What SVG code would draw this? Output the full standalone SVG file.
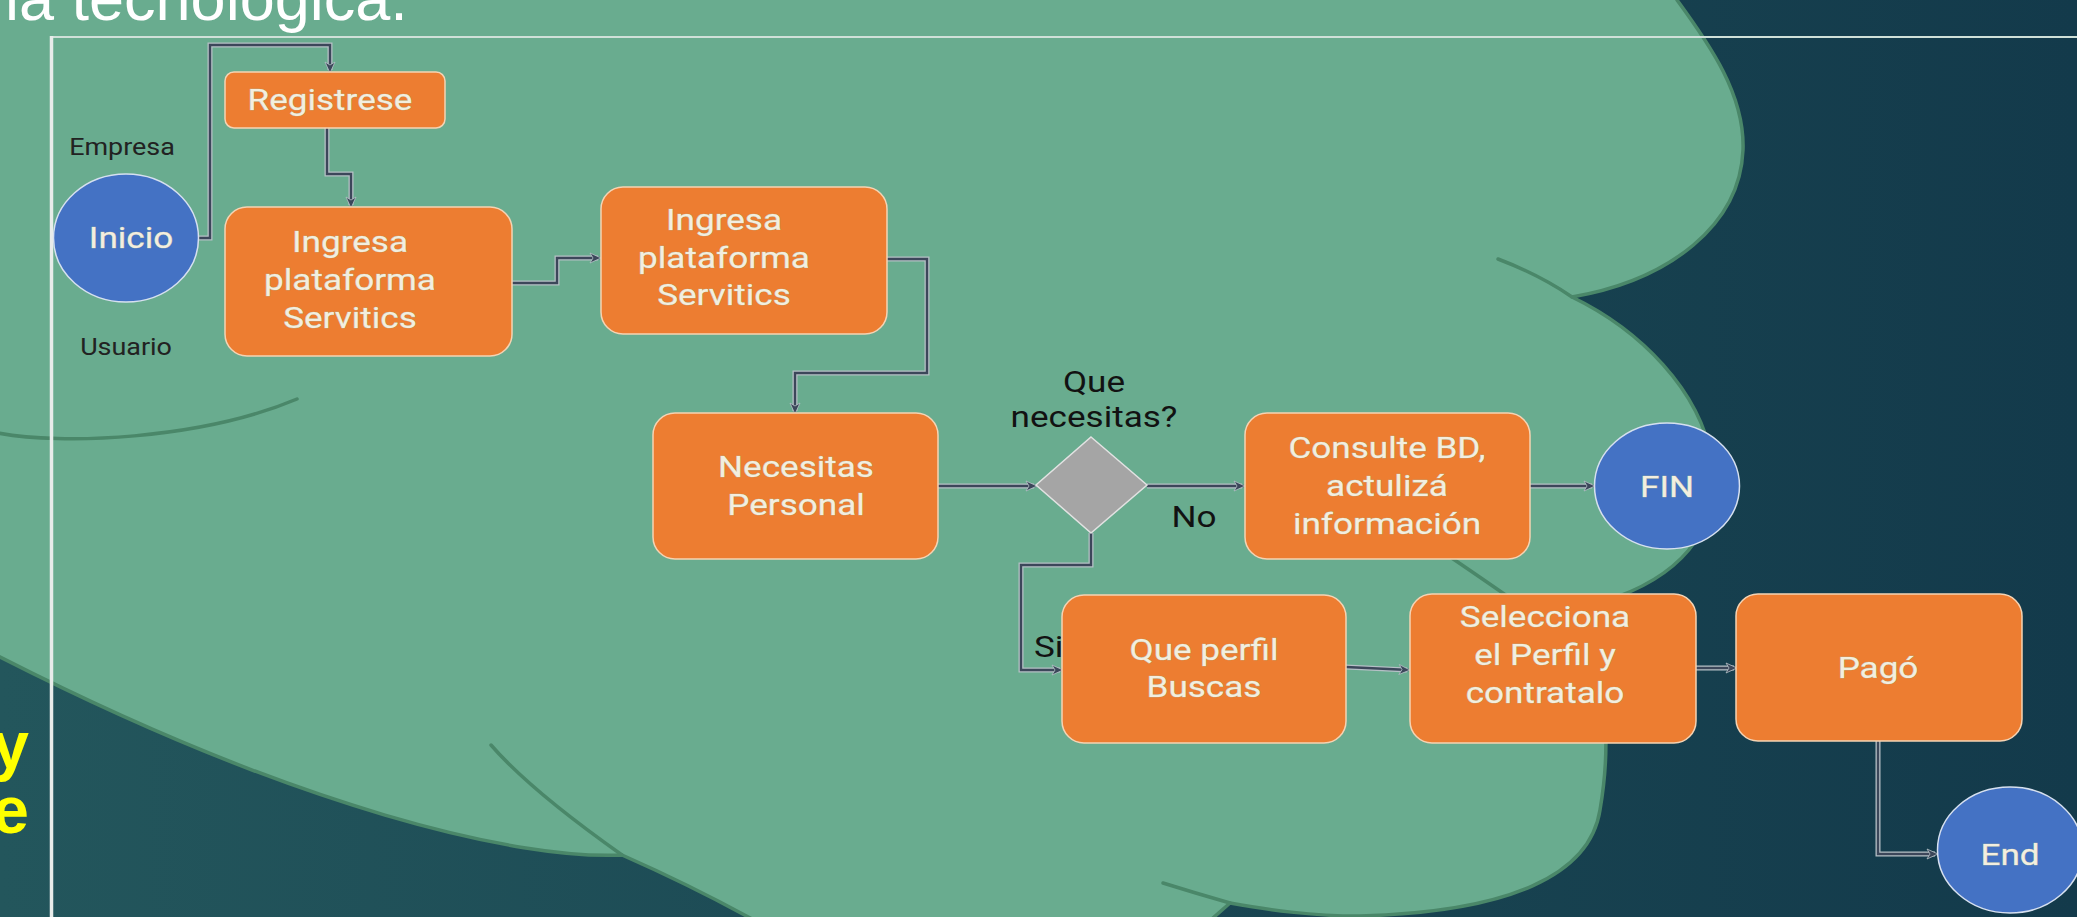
<svg xmlns="http://www.w3.org/2000/svg" width="2077" height="917" viewBox="0 0 2077 917">
<defs>
<linearGradient id="bg" x1="0" y1="0" x2="1" y2="0">
<stop offset="0" stop-color="#23565c"/>
<stop offset="1" stop-color="#133a4b"/>
</linearGradient>
<marker id="ar" markerWidth="14" markerHeight="14" refX="11" refY="6" orient="auto" markerUnits="userSpaceOnUse">
<path d="M1,1 L12,6 L1,11 L4,6 Z" fill="#3c475a" stroke="#b5c0c6" stroke-width="0.8"/>
</marker>
<style>
.box{fill:#ed7d31;stroke:#f5d3b3;stroke-width:1.5}
.circ{fill:#4472c4;stroke:#d6e0f0;stroke-width:1.5}
.dia{fill:#a5a5a5;stroke:#e2e2e2;stroke-width:1.5}
.nt{font-family:Roboto,"Liberation Sans",sans-serif;font-size:30px;fill:#f3eedf;text-anchor:middle;stroke:#a9b89f;stroke-width:0.6;paint-order:stroke}
.lb{font-family:Roboto,"Liberation Sans",sans-serif;font-size:30px;fill:#121212}
.sm{font-family:Roboto,"Liberation Sans",sans-serif;font-size:23px;fill:#222;text-anchor:middle}
.halo{fill:none;stroke:#b5c0c6;stroke-width:5}
.core{fill:none;stroke:#3c475a;stroke-width:2.4}
.edge{fill:none;stroke:#4a8769;stroke-width:3.5;stroke-linecap:round}
</style>
</defs>
<rect width="2077" height="917" fill="url(#bg)"/>
<g id="cloud">
<path fill="#69ac8f" d="M0,0 H1677 C1710,45 1745,95 1743,150 C1740,225 1670,280 1572,297 C1640,330 1700,390 1712,460 C1722,520 1690,570 1617,597 L1585,640 C1605,680 1612,740 1600,810 C1590,875 1510,912 1360,916 C1310,916 1270,910 1230,903 L1205,925 H755 L749,917 Q690,885 622,855 C520,860 300,810 0,657 Z"/>
<path class="edge" d="M1677,0 C1710,45 1745,95 1743,150 C1740,225 1670,280 1572,297"/>
<path class="edge" d="M1498,259 Q1540,275 1572,297 C1640,330 1700,390 1712,460 C1722,520 1690,570 1617,597"/>
<path class="edge" d="M1425,540 Q1470,570 1530,612"/>
<path class="edge" d="M1585,640 C1605,680 1612,740 1600,810 C1590,875 1510,912 1360,916 C1310,916 1270,910 1230,903 L1205,925"/>
<path class="edge" d="M1163,883 Q1195,893 1230,903"/>
<path class="edge" d="M752,919 Q690,885 622,855 C520,860 300,810 -2,656"/>
<path class="edge" d="M491,745 Q530,790 622,855"/>
<path class="edge" d="M-2,433 C60,445 200,440 297,399"/>
</g>
<g id="title">
<text x="5" y="20" font-family="Liberation Sans, Arial, sans-serif" font-size="63" fill="#ffffff">la tecnológica.</text>
<text x="29" y="768" font-family="Liberation Sans, Arial, sans-serif" font-size="66" font-weight="bold" fill="#ffff00" text-anchor="end">y</text>
<text x="29" y="833" font-family="Liberation Sans, Arial, sans-serif" font-size="66" font-weight="bold" fill="#ffff00" text-anchor="end">e</text>
</g>
<g id="frame">
<line x1="50" y1="37" x2="2077" y2="37" stroke="#cfe0d8" stroke-width="2"/>
<line x1="51.5" y1="36" x2="51.5" y2="917" stroke="#e8ecea" stroke-width="3.5"/>
</g>
<g id="connectors">
<g>
<path class="halo" d="M199,238 H210 V45 H330 V70"/>
<path class="halo" d="M327,128 V174 H351 V205"/>
<path class="halo" d="M512,283 H557 V258 H598"/>
<path class="halo" d="M887,259 H927 V373 H795 V411"/>
<path class="halo" d="M938,486 H1034"/>
<path class="halo" d="M1147,486 H1242"/>
<path class="halo" d="M1091,533 V565 H1021 V670 H1060"/>
<path class="halo" d="M1346,667 L1407,670"/>
<path class="halo" d="M1530,486 H1592"/>
<path class="halo" d="M1696,668 H1734"/>
<path class="halo" d="M1878,741 V854 H1935"/>
</g>
<path class="core" marker-end="url(#ar)" d="M199,238 H210 V45 H330 V72"/>
<path class="core" marker-end="url(#ar)" d="M327,128 V174 H351 V207"/>
<path class="core" marker-end="url(#ar)" d="M512,283 H557 V258 H600"/>
<path class="core" marker-end="url(#ar)" d="M887,259 H927 V373 H795 V413"/>
<path class="core" marker-end="url(#ar)" d="M938,486 H1036"/>
<path class="core" marker-end="url(#ar)" d="M1147,486 H1244"/>
<path class="core" marker-end="url(#ar)" d="M1091,533 V565 H1021 V670 H1062"/>
<path class="core" marker-end="url(#ar)" d="M1346,667 L1409,670"/>
<path class="core" marker-end="url(#ar)" d="M1530,486 H1594"/>
<path class="core" marker-end="url(#ar)" d="M1696,668 H1736"/>
<path class="core" marker-end="url(#ar)" d="M1878,741 V854 H1937"/>
</g>
<g id="labels">
<text class="sm" transform="translate(122,0) scale(1.17,1)" x="0" y="155">Empresa</text>
<text class="sm" transform="translate(126,0) scale(1.17,1)" x="0" y="355">Usuario</text>
<text class="lb" text-anchor="middle" transform="translate(1094,0) scale(1.17,1)" x="0" y="392">Que<tspan x="0" y="427">necesitas?</tspan></text>
<text class="lb" text-anchor="middle" transform="translate(1194,0) scale(1.17,1)" x="0" y="527">No</text>
<text class="lb" transform="translate(1034,0) scale(1.17,1)" x="0" y="657">Si</text>
</g>
<g id="n-inicio">
<ellipse class="circ" cx="126" cy="238" rx="72.5" ry="64"/>
<text class="nt" transform="translate(131,0) scale(1.17,1)" x="0" y="248">Inicio</text>
</g>
<g id="n-registrese">
<rect class="box" x="225" y="72" width="220" height="56" rx="9"/>
<text class="nt" transform="translate(330,0) scale(1.17,1)" x="0" y="110">Registrese</text>
</g>
<g id="n-ingresa1">
<rect class="box" x="225" y="207" width="287" height="149" rx="22"/>
<text class="nt" transform="translate(350,0) scale(1.17,1)" x="0" y="252">Ingresa<tspan x="0" y="290">plataforma</tspan><tspan x="0" y="328">Servitics</tspan></text>
</g>
<g id="n-ingresa2">
<rect class="box" x="601" y="187" width="286" height="147" rx="22"/>
<text class="nt" transform="translate(724,0) scale(1.17,1)" x="0" y="230">Ingresa<tspan x="0" y="268">plataforma</tspan><tspan x="0" y="305">Servitics</tspan></text>
</g>
<g id="n-necesitas">
<rect class="box" x="653" y="413" width="285" height="146" rx="22"/>
<text class="nt" transform="translate(796,0) scale(1.17,1)" x="0" y="477">Necesitas<tspan x="0" y="515">Personal</tspan></text>
</g>
<g id="n-decision">
<polygon class="dia" points="1091,437 1147,485 1091,533 1036,485"/>
</g>
<g id="n-consulte">
<rect class="box" x="1245" y="413" width="285" height="146" rx="22"/>
<text class="nt" transform="translate(1387,0) scale(1.17,1)" x="0" y="458">Consulte BD,<tspan x="0" y="496">actulizá</tspan><tspan x="0" y="534">información</tspan></text>
</g>
<g id="n-fin">
<ellipse class="circ" cx="1667" cy="486" rx="72.5" ry="63"/>
<text class="nt" transform="translate(1667,0) scale(1.17,1)" x="0" y="497">FIN</text>
</g>
<g id="n-perfil">
<rect class="box" x="1062" y="595" width="284" height="148" rx="22"/>
<text class="nt" transform="translate(1204,0) scale(1.17,1)" x="0" y="660">Que perfil<tspan x="0" y="697">Buscas</tspan></text>
</g>
<g id="n-selecciona">
<rect class="box" x="1410" y="594" width="286" height="149" rx="22"/>
<text class="nt" transform="translate(1545,0) scale(1.17,1)" x="0" y="627">Selecciona<tspan x="0" y="665">el Perfil y</tspan><tspan x="0" y="703">contratalo</tspan></text>
</g>
<g id="n-pago">
<rect class="box" x="1736" y="594" width="286" height="147" rx="22"/>
<text class="nt" transform="translate(1878,0) scale(1.17,1)" x="0" y="678">Pagó</text>
</g>
<g id="n-end">
<ellipse class="circ" cx="2010" cy="850" rx="72.5" ry="63"/>
<text class="nt" transform="translate(2010,0) scale(1.17,1)" x="0" y="865">End</text>
</g>
</svg>
